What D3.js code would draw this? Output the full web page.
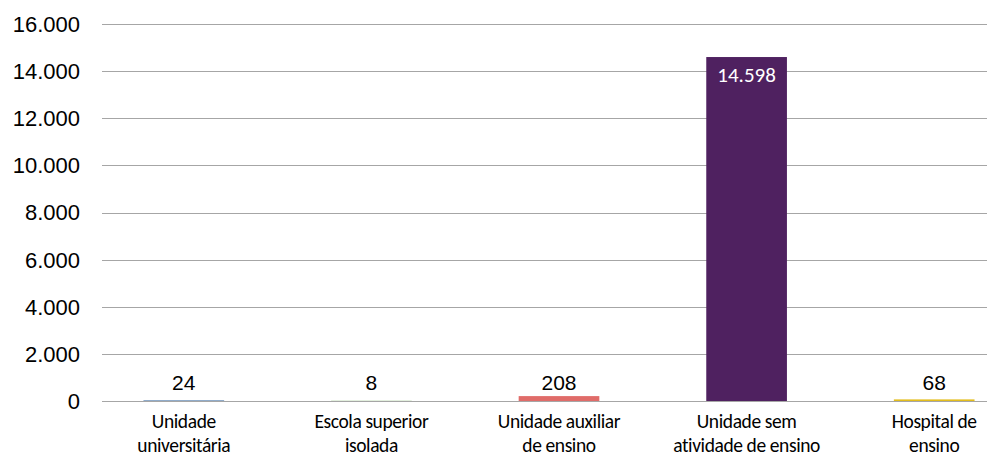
<!DOCTYPE html>
<html>
<head>
<meta charset="utf-8">
<script src="https://cdn.jsdelivr.net/npm/d3@7"></script>
<style>
    body { margin: 0; background: #fff; }
    svg { display: block; }
</style>
</head>
<body>
<div id="chart"></div>
<script>
const categories = [
    ["Unidade", "universitária"],
    ["Escola superior", "isolada"],
    ["Unidade auxiliar", "de ensino"],
    ["Unidade sem", "atividade de ensino"],
    ["Hospital de", "ensino"]
];
const values = [24, 8, 208, 14598, 68];
const barColors = ["#3b6aa0", "#6aa84f", "#e06c69", "#4f2160", "#e3bd1c"];
const yTicks = [0, 2000, 4000, 6000, 8000, 10000, 12000, 14000, 16000];

const width = 987;
const height = 457;
const arial = "'Liberation Sans', Arial, sans-serif";
const lato = "Carlito, Lato, sans-serif";

const svg = d3.select("#chart")
    .append("svg")
    .attr("width", width)
    .attr("height", height);

const x = d3.scaleBand()
    .domain(d3.range(values.length))
    .range([90, 1028])
    .paddingInner(0.57)
    .paddingOuter(0.285);

const y = d3.scaleLinear()
    .domain([0, 16000])
    .range([401, 24]);

const fmt = v => d3.format(",")(v).replace(/,/g, ".");

// grid lines
svg.append("g")
    .selectAll("line")
    .data(yTicks)
    .enter()
    .append("line")
    .attr("x1", 102).attr("x2", 987)
    .attr("y1", d => Math.round(y(d)) + 0.5)
    .attr("y2", d => Math.round(y(d)) + 0.5)
    .attr("stroke", "#a6a6a6")
    .attr("stroke-width", 1.2);

// tick labels
svg.append("g")
    .selectAll("text")
    .data(yTicks)
    .enter()
    .append("text")
    .attr("x", 80)
    .attr("y", d => y(d))
    .attr("dy", "0.36em")
    .attr("text-anchor", "end")
    .attr("font-family", arial)
    .attr("font-size", 22)
    .attr("fill", "#000")
    .text(d => fmt(d));

// bars
svg.append("g")
    .selectAll("rect")
    .data(values)
    .enter()
    .append("rect")
    .attr("x", (d, i) => x(i))
    .attr("width", x.bandwidth())
    .attr("y", d => y(d))
    .attr("height", d => y(0) - y(d))
    .attr("fill", (d, i) => barColors[i]);

// axis line on top of bars
svg.append("line")
    .attr("x1", 102).attr("x2", 987)
    .attr("y1", Math.round(y(0)) + 0.5)
    .attr("y2", Math.round(y(0)) + 0.5)
    .attr("stroke", "#a6a6a6")
    .attr("stroke-width", 1.2);

// data labels
svg.append("g")
    .selectAll("text")
    .data(values)
    .enter()
    .append("text")
    .attr("x", (d, i) => x(i) + x.bandwidth() / 2)
    .attr("y", d => d > 5000 ? y(d) + 25 : 390)
    .attr("text-anchor", "middle")
    .attr("font-family", d => d > 5000 ? lato : arial)
    .attr("font-size", 21)
    .attr("fill", d => d > 5000 ? "#fff" : "#000")
    .text(d => fmt(d));

// category labels
const catG = svg.append("g")
    .selectAll("text")
    .data(categories)
    .enter()
    .append("text")
    .attr("x", (d, i) => x(i) + x.bandwidth() / 2)
    .attr("y", 428)
    .attr("text-anchor", "middle")
    .attr("font-family", lato)
    .attr("font-size", 19.5)
    .attr("letter-spacing", -0.4)
    .attr("fill", "#000");

catG.selectAll("tspan")
    .data(d => d)
    .enter()
    .append("tspan")
    .attr("x", function() { return d3.select(this.parentNode).attr("x"); })
    .attr("dy", (d, i) => i === 0 ? 0 : 24)
    .text(d => d);
</script>
</body>
</html>
